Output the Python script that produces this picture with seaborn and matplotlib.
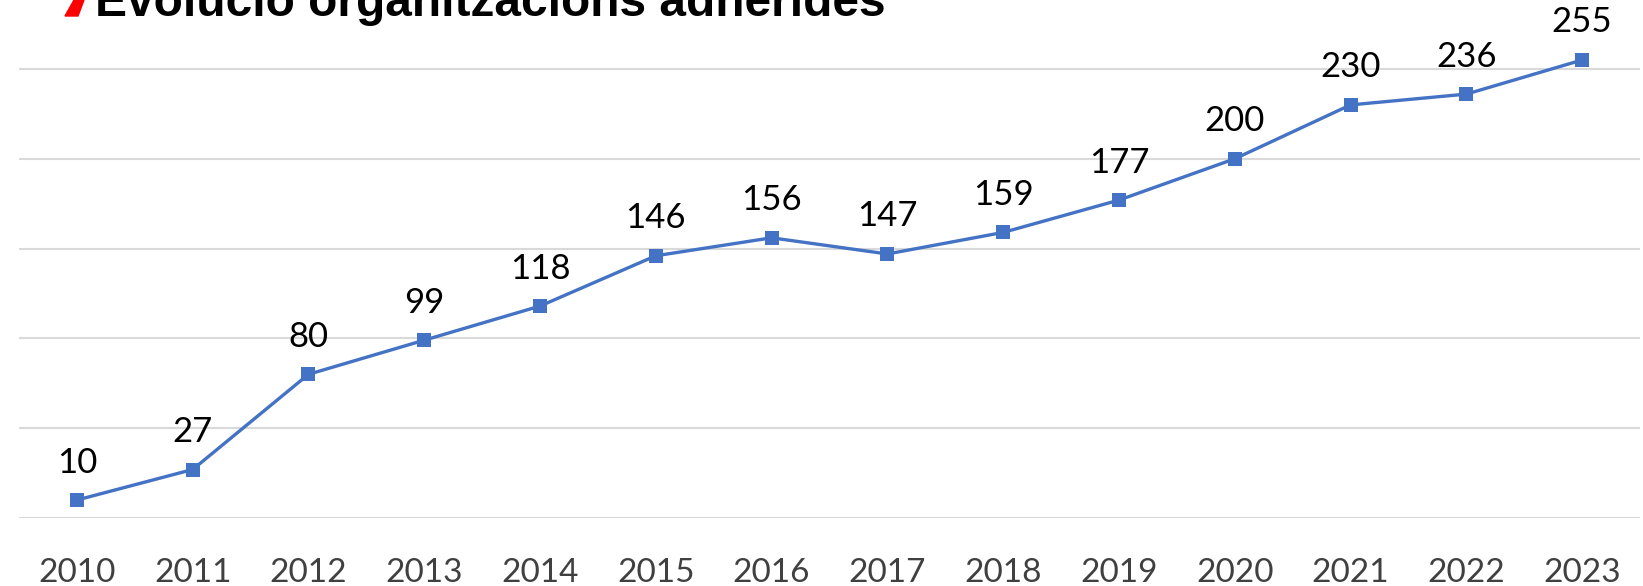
import matplotlib
matplotlib.use("Agg")
import matplotlib.pyplot as plt
import seaborn as sns
import pandas as pd

# --- data ---
years = [2010, 2011, 2012, 2013, 2014, 2015, 2016, 2017, 2018, 2019, 2020, 2021, 2022, 2023]
organitzacions = [10, 27, 80, 99, 118, 146, 156, 147, 159, 177, 200, 230, 236, 255]
title_text = "Evolució organitzacions adherides"

df = pd.DataFrame({'year': [str(y) for y in years], 'n': organitzacions})

sns.set_theme(style='white')
plt.rcParams['font.family'] = ['Lato', 'DejaVu Sans']

fig = plt.figure(figsize=(16.43, 5.86), dpi=100)
ax = fig.add_axes([19 / 1643, 1 - 518 / 586, 1621 / 1643, 518 / 586])

line_color = '#4472C4'
sns.lineplot(data=df, x='year', y='n', ax=ax, color=line_color, linewidth=2.4,
             marker='s', markersize=10, markeredgewidth=0, sort=False)

for i, v in enumerate(organitzacions):
    ax.annotate(str(v), (i, v), xytext=(0, 27), textcoords='offset points',
                ha='center', va='center', fontsize=25, color='black')

ax.set_xlim(-0.5, len(years) - 0.5)
ax.set_ylim(0, 288.4)
ax.set_yticks([0, 50, 100, 150, 200, 250])
ax.yaxis.grid(True, color='#d9d9d9', linewidth=1.5)
ax.set_axisbelow(True)
ax.set_yticklabels([])
ax.tick_params(axis='y', length=0)
ax.tick_params(axis='x', length=0, labelsize=24, labelcolor='#404040', pad=29)
for s in ax.spines.values():
    s.set_visible(False)
ax.set_xlabel('')
ax.set_ylabel('')

# title, clipped at top like the original
fig.text(95 / 1643, 1 - 16 / 586, title_text, fontsize=34.5, fontweight='bold',
         family=['Liberation Sans', 'DejaVu Sans'], ha='left', va='baseline', color='black')
fig.patches.append(plt.Polygon([[65 / 1643, 1 - 16 / 586], [78 / 1643, 1 - 16 / 586],
                                [84 / 1643, 1.0], [74 / 1643, 1.0]], closed=True, color='red',
                               transform=fig.transFigure, figure=fig))

fig.savefig('out.png', dpi=100)
